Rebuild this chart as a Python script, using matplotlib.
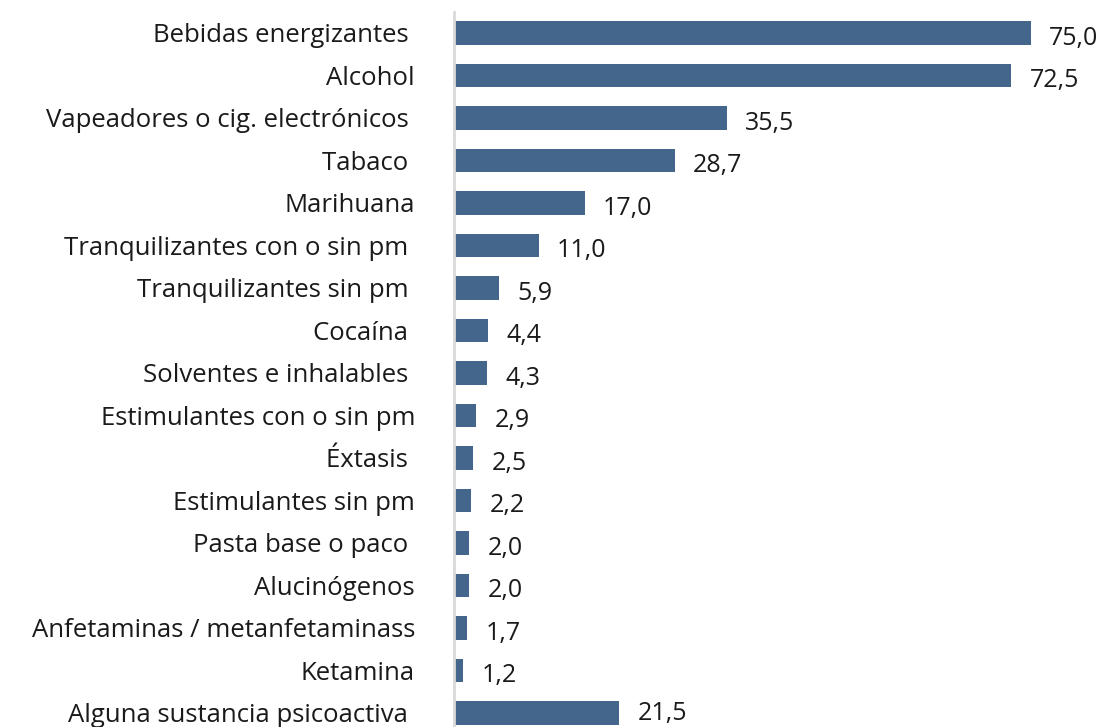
import matplotlib.pyplot as plt
import numpy as np

sustancias = ["Bebidas energizantes ", "Alcohol", "Vapeadores o cig. electrónicos ",
              "Tabaco ", "Marihuana", "Tranquilizantes con o sin pm ",
              "Tranquilizantes sin pm ", "Cocaína ", "Solventes e inhalables ",
              "Estimulantes con o sin pm", "Éxtasis ", "Estimulantes sin pm",
              "Pasta base o paco ", "Alucinógenos", "Anfetaminas / metanfetaminass",
              "Ketamina", "Alguna sustancia psicoactiva "]
valores = [75.0, 72.5, 35.5, 28.7, 17.0, 11.0, 5.9, 4.4, 4.3, 2.9, 2.5, 2.2,
           2.0, 2.0, 1.7, 1.2, 21.5]

plt.rcParams['font.family'] = ['Open Sans', 'DejaVu Sans']

fig = plt.figure(figsize=(11.06, 7.27), dpi=100)
ax = fig.add_axes([454 / 1106, 0, 1 - 454 / 1106, 715 / 727])

y = np.arange(len(sustancias))
ax.barh(y, valores, height=0.56, color='#44668c')

for yi, v in zip(y, valores):
    dy = 0.12 if yi < len(valores) - 1 else 0.02
    ax.text(v + 2.4, yi + dy, f"{v:.1f}".replace('.', ','), va='center',
            ha='left', fontsize=18, color='#1a1a1a')

ax.set_yticks(y)
ax.set_yticklabels(sustancias, fontsize=18.5, color='#1a1a1a')
ax.tick_params(axis='y', length=0, pad=28)
ax.set_xticks([])
ax.set_xlim(0, 84.8)
ax.set_ylim(len(sustancias) - 1 + 0.33, -0.494)

for s in ['top', 'right', 'bottom']:
    ax.spines[s].set_visible(False)
ax.spines['left'].set_color('#d9d9d9')
ax.spines['left'].set_linewidth(2)

plt.savefig('out.png', dpi=100)
